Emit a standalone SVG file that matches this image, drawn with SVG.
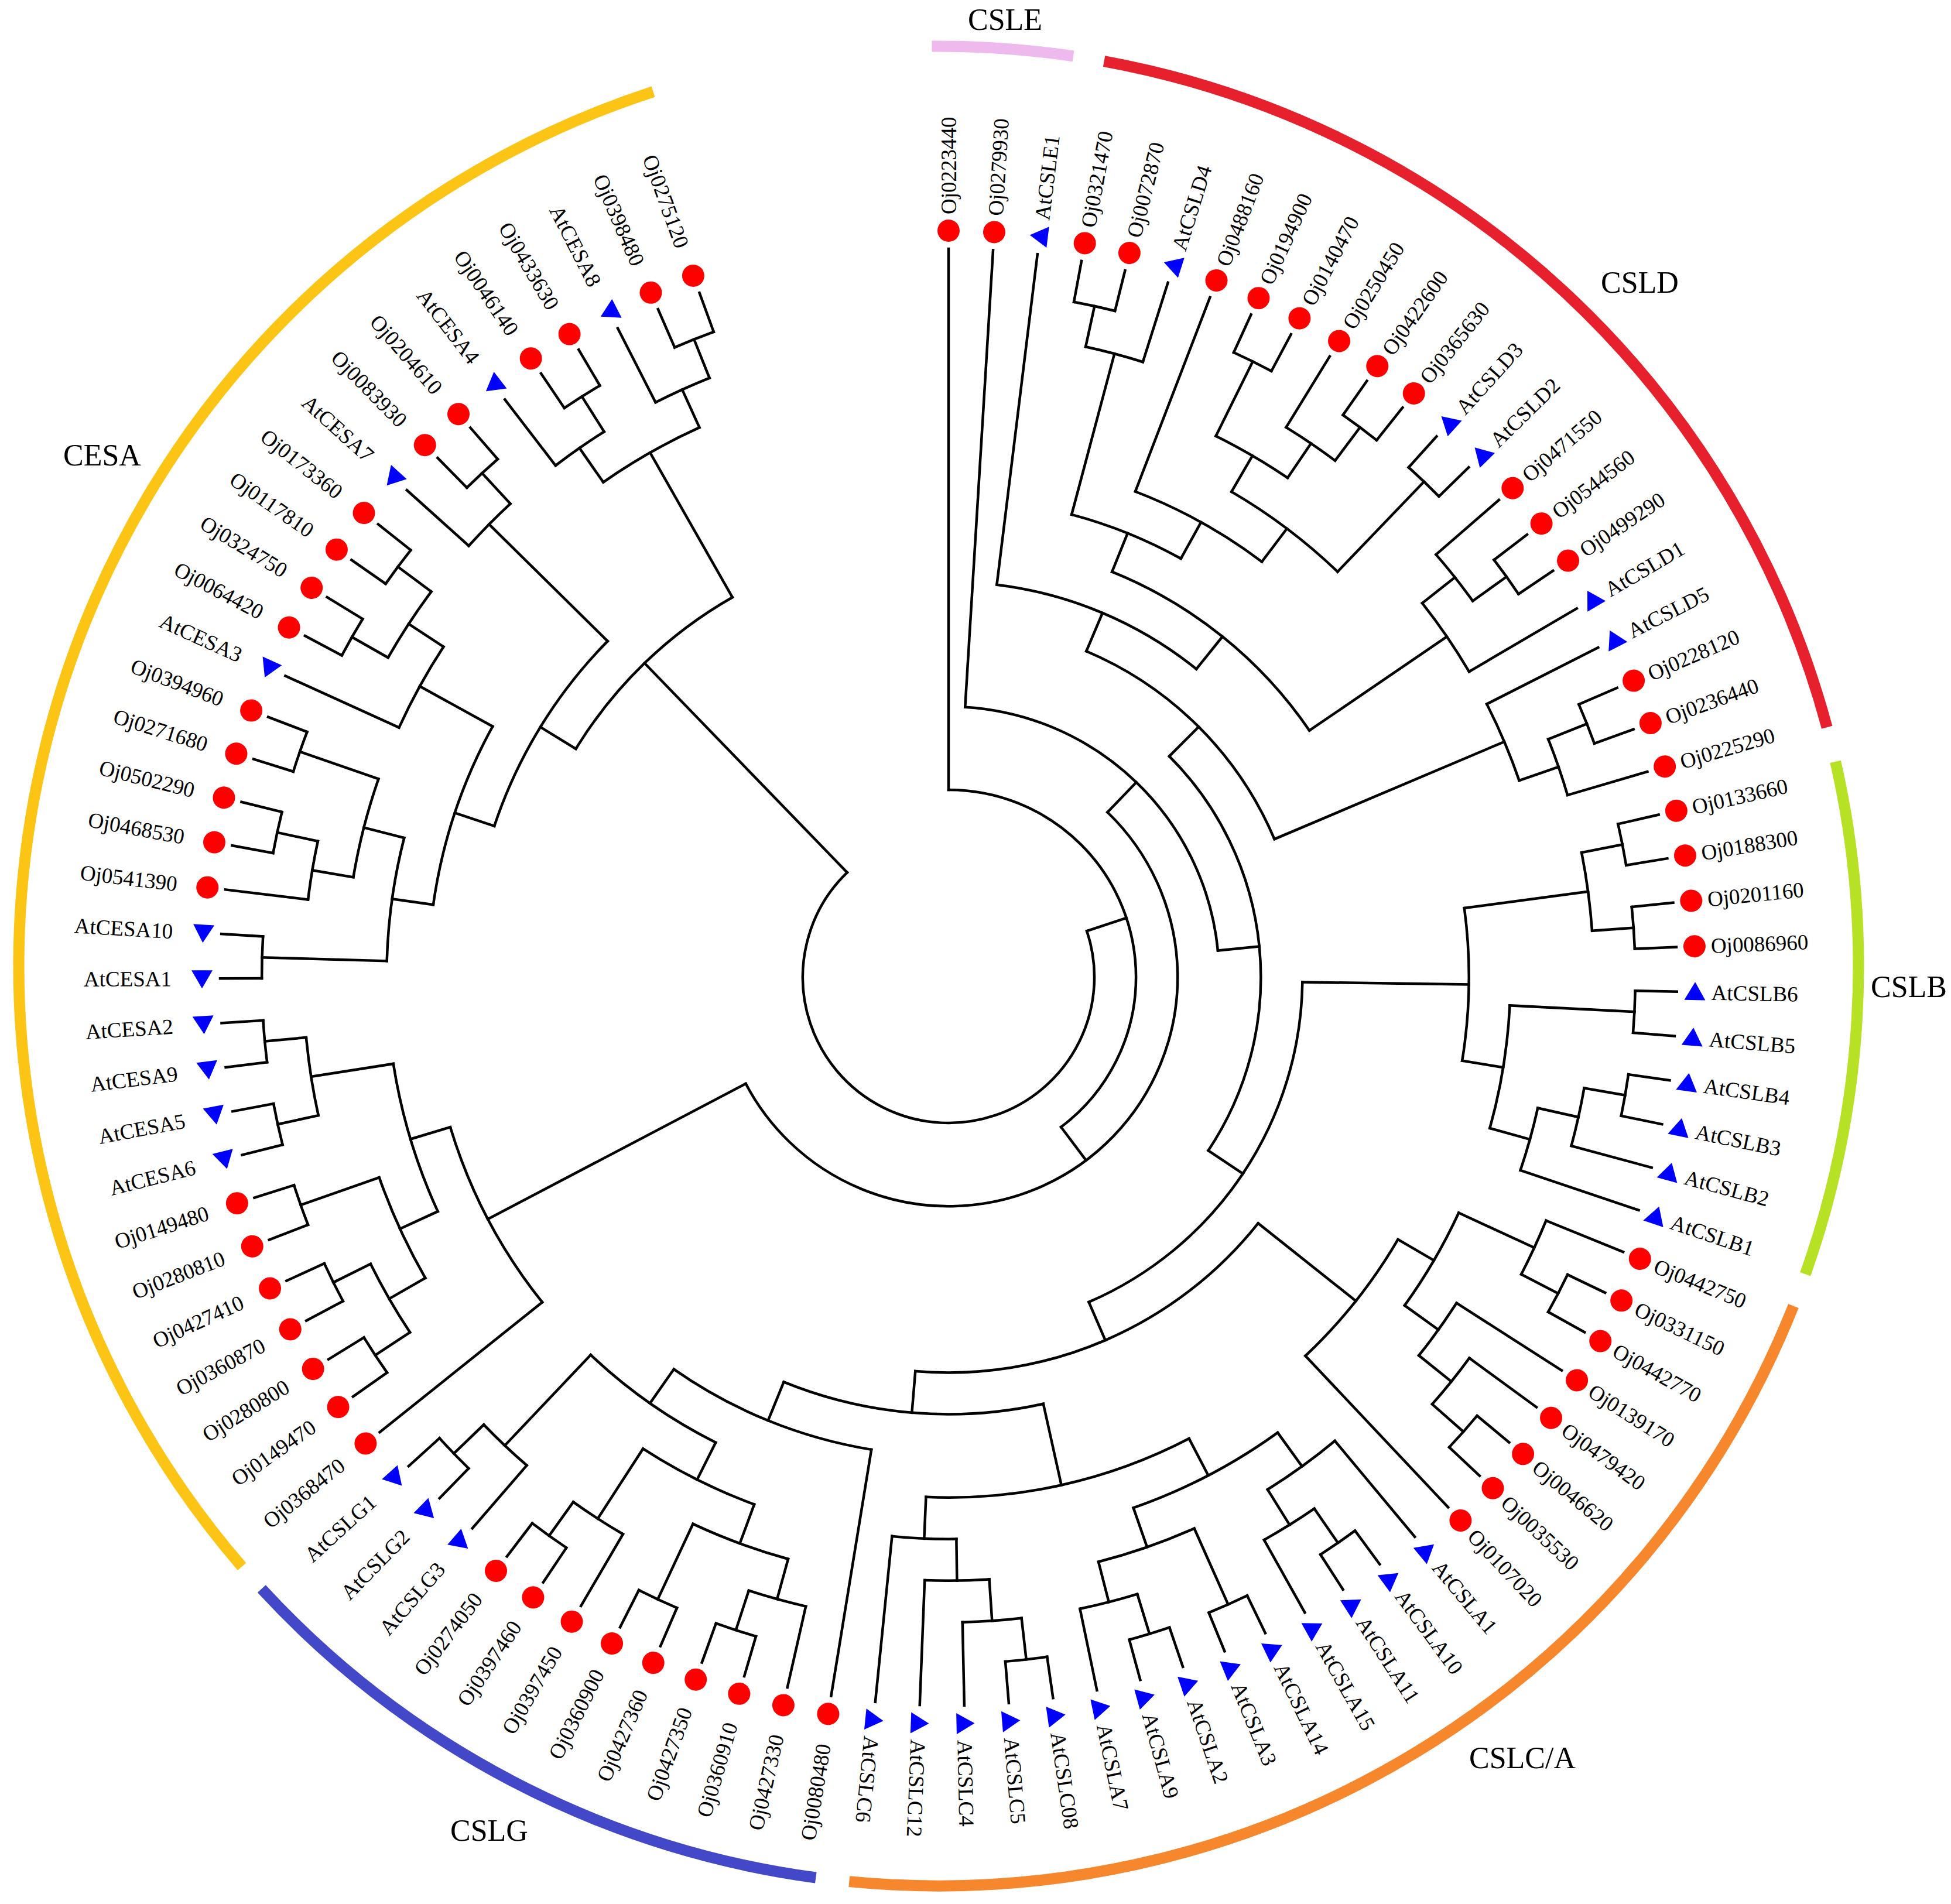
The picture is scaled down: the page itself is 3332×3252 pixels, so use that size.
<svg xmlns="http://www.w3.org/2000/svg" width="3332" height="3252" viewBox="0 0 3332 3252">
<style>
.r{transform:rotate(calc(var(--u) * 3.505155deg))}
#connectors line,#connectors circle{fill:none;stroke:#000;stroke-width:4.5;stroke-linecap:square}
.lb{font-family:'Liberation Serif','Times New Roman',serif;font-size:37px;fill:#000}
.f{text-anchor:end}
.gl{font-family:'Liberation Serif','Times New Roman',serif;font-size:52px;fill:#000}
#bands path{fill:none;stroke-width:19}
</style>
<defs>
<circle id="dot" cx="1275" cy="0" r="19" fill="#FF0000"/>
<polygon id="tri" points="1275,-17 1257,14 1293,14" fill="#0000FF"/>
</defs>
<rect width="3332" height="3252" fill="#FFFFFF"/>
<g transform="translate(1620,1669) rotate(-90)">
<g id="connectors">
<line class="r" style="--u:0" x1="320.1" x2="1244"/>
<line class="r" style="--u:1" x1="462.2" x2="1244"/>
<line class="r" style="--u:2" x1="675.4" x2="1244"/>
<line class="r" style="--u:3" x1="1172.9" x2="1244"/>
<line class="r" style="--u:4" x1="1172.9" x2="1244"/>
<line class="r" style="--u:5" x1="1101.9" x2="1244"/>
<line class="r" style="--u:6" x1="888.7" x2="1244"/>
<line class="r" style="--u:7" x1="1172.9" x2="1244"/>
<line class="r" style="--u:8" x1="1172.9" x2="1244"/>
<line class="r" style="--u:9" x1="1101.9" x2="1244"/>
<line class="r" style="--u:10" x1="1172.9" x2="1244"/>
<line class="r" style="--u:11" x1="1172.9" x2="1244"/>
<line class="r" style="--u:12" x1="1172.9" x2="1244"/>
<line class="r" style="--u:13" x1="1172.9" x2="1244"/>
<line class="r" style="--u:14" x1="1101.9" x2="1244"/>
<line class="r" style="--u:15" x1="1172.9" x2="1244"/>
<line class="r" style="--u:16" x1="1172.9" x2="1244"/>
<line class="r" style="--u:17" x1="1030.8" x2="1244"/>
<line class="r" style="--u:18" x1="1030.8" x2="1244"/>
<line class="r" style="--u:19" x1="1172.9" x2="1244"/>
<line class="r" style="--u:20" x1="1172.9" x2="1244"/>
<line class="r" style="--u:21" x1="1101.9" x2="1244"/>
<line class="r" style="--u:22" x1="1172.9" x2="1244"/>
<line class="r" style="--u:23" x1="1172.9" x2="1244"/>
<line class="r" style="--u:24" x1="1172.9" x2="1244"/>
<line class="r" style="--u:25" x1="1172.9" x2="1244"/>
<line class="r" style="--u:26" x1="1172.9" x2="1244"/>
<line class="r" style="--u:27" x1="1172.9" x2="1244"/>
<line class="r" style="--u:28" x1="1172.9" x2="1244"/>
<line class="r" style="--u:29" x1="1172.9" x2="1244"/>
<line class="r" style="--u:30" x1="1101.9" x2="1244"/>
<line class="r" style="--u:31" x1="1030.8" x2="1244"/>
<line class="r" style="--u:32" x1="1101.9" x2="1244"/>
<line class="r" style="--u:33" x1="1172.9" x2="1244"/>
<line class="r" style="--u:34" x1="1172.9" x2="1244"/>
<line class="r" style="--u:35" x1="1030.8" x2="1244"/>
<line class="r" style="--u:36" x1="1101.9" x2="1244"/>
<line class="r" style="--u:37" x1="1172.9" x2="1244"/>
<line class="r" style="--u:38" x1="1172.9" x2="1244"/>
<line class="r" style="--u:39" x1="888.7" x2="1244"/>
<line class="r" style="--u:40" x1="1030.8" x2="1244"/>
<line class="r" style="--u:41" x1="1172.9" x2="1244"/>
<line class="r" style="--u:42" x1="1172.9" x2="1244"/>
<line class="r" style="--u:43" x1="1101.9" x2="1244"/>
<line class="r" style="--u:44" x1="1172.9" x2="1244"/>
<line class="r" style="--u:45" x1="1172.9" x2="1244"/>
<line class="r" style="--u:46" x1="1172.9" x2="1244"/>
<line class="r" style="--u:47" x1="1172.9" x2="1244"/>
<line class="r" style="--u:48" x1="1101.9" x2="1244"/>
<line class="r" style="--u:49" x1="1172.9" x2="1244"/>
<line class="r" style="--u:50" x1="1172.9" x2="1244"/>
<line class="r" style="--u:51" x1="1101.9" x2="1244"/>
<line class="r" style="--u:52" x1="1030.8" x2="1244"/>
<line class="r" style="--u:53" x1="959.7" x2="1244"/>
<line class="r" style="--u:54" x1="817.6" x2="1244"/>
<line class="r" style="--u:55" x1="1101.9" x2="1244"/>
<line class="r" style="--u:56" x1="1172.9" x2="1244"/>
<line class="r" style="--u:57" x1="1172.9" x2="1244"/>
<line class="r" style="--u:58" x1="1172.9" x2="1244"/>
<line class="r" style="--u:59" x1="1172.9" x2="1244"/>
<line class="r" style="--u:60" x1="1101.9" x2="1244"/>
<line class="r" style="--u:61" x1="1172.9" x2="1244"/>
<line class="r" style="--u:62" x1="1172.9" x2="1244"/>
<line class="r" style="--u:63" x1="1101.9" x2="1244"/>
<line class="r" style="--u:64" x1="1172.9" x2="1244"/>
<line class="r" style="--u:65" x1="1172.9" x2="1244"/>
<line class="r" style="--u:66" x1="888.7" x2="1244"/>
<line class="r" style="--u:67" x1="1172.9" x2="1244"/>
<line class="r" style="--u:68" x1="1172.9" x2="1244"/>
<line class="r" style="--u:69" x1="1172.9" x2="1244"/>
<line class="r" style="--u:70" x1="1172.9" x2="1244"/>
<line class="r" style="--u:71" x1="1172.9" x2="1244"/>
<line class="r" style="--u:72" x1="1172.9" x2="1244"/>
<line class="r" style="--u:73" x1="1172.9" x2="1244"/>
<line class="r" style="--u:74" x1="1172.9" x2="1244"/>
<line class="r" style="--u:75" x1="1172.9" x2="1244"/>
<line class="r" style="--u:76" x1="1172.9" x2="1244"/>
<line class="r" style="--u:77" x1="1172.9" x2="1244"/>
<line class="r" style="--u:78" x1="1172.9" x2="1244"/>
<line class="r" style="--u:79" x1="1101.9" x2="1244"/>
<line class="r" style="--u:80" x1="1172.9" x2="1244"/>
<line class="r" style="--u:81" x1="1172.9" x2="1244"/>
<line class="r" style="--u:82" x1="1172.9" x2="1244"/>
<line class="r" style="--u:83" x1="1172.9" x2="1244"/>
<line class="r" style="--u:84" x1="1030.8" x2="1244"/>
<line class="r" style="--u:85" x1="1172.9" x2="1244"/>
<line class="r" style="--u:86" x1="1172.9" x2="1244"/>
<line class="r" style="--u:87" x1="1172.9" x2="1244"/>
<line class="r" style="--u:88" x1="1172.9" x2="1244"/>
<line class="r" style="--u:89" x1="1101.9" x2="1244"/>
<line class="r" style="--u:90" x1="1172.9" x2="1244"/>
<line class="r" style="--u:91" x1="1172.9" x2="1244"/>
<line class="r" style="--u:92" x1="1101.9" x2="1244"/>
<line class="r" style="--u:93" x1="1172.9" x2="1244"/>
<line class="r" style="--u:94" x1="1172.9" x2="1244"/>
<line class="r" style="--u:95" x1="1101.9" x2="1244"/>
<line class="r" style="--u:96" x1="1172.9" x2="1244"/>
<line class="r" style="--u:97" x1="1172.9" x2="1244"/>
<line class="r" style="--u:3.5" x1="1101.9" x2="1172.9"/>
<line class="r" style="--u:4.25" x1="817.6" x2="1101.9"/>
<line class="r" style="--u:7.5" x1="1030.8" x2="1172.9"/>
<line class="r" style="--u:10.5" x1="1101.9" x2="1172.9"/>
<line class="r" style="--u:9.75" x1="1030.8" x2="1101.9"/>
<line class="r" style="--u:8.625" x1="959.7" x2="1030.8"/>
<line class="r" style="--u:12.5" x1="959.7" x2="1172.9"/>
<line class="r" style="--u:10.5625" x1="888.7" x2="959.7"/>
<line class="r" style="--u:8.28125" x1="817.6" x2="888.7"/>
<line class="r" style="--u:6.265625" x1="746.5" x2="817.6"/>
<line class="r" style="--u:15.5" x1="1101.9" x2="1172.9"/>
<line class="r" style="--u:14.75" x1="1030.8" x2="1101.9"/>
<line class="r" style="--u:15.875" x1="746.5" x2="1030.8"/>
<line class="r" style="--u:11.0703125" x1="675.4" x2="746.5"/>
<line class="r" style="--u:6.53515625" x1="604.4" x2="675.4"/>
<line class="r" style="--u:19.5" x1="1101.9" x2="1172.9"/>
<line class="r" style="--u:20.25" x1="1030.8" x2="1101.9"/>
<line class="r" style="--u:19.125" x1="604.4" x2="1030.8"/>
<line class="r" style="--u:12.830078" x1="533.3" x2="604.4"/>
<line class="r" style="--u:22.5" x1="1101.9" x2="1172.9"/>
<line class="r" style="--u:24.5" x1="1101.9" x2="1172.9"/>
<line class="r" style="--u:23.5" x1="888.7" x2="1101.9"/>
<line class="r" style="--u:26.5" x1="959.7" x2="1172.9"/>
<line class="r" style="--u:28.5" x1="1101.9" x2="1172.9"/>
<line class="r" style="--u:29.25" x1="1030.8" x2="1101.9"/>
<line class="r" style="--u:30.125" x1="959.7" x2="1030.8"/>
<line class="r" style="--u:28.3125" x1="888.7" x2="959.7"/>
<line class="r" style="--u:25.90625" x1="604.4" x2="888.7"/>
<line class="r" style="--u:33.5" x1="1101.9" x2="1172.9"/>
<line class="r" style="--u:32.75" x1="959.7" x2="1101.9"/>
<line class="r" style="--u:37.5" x1="1101.9" x2="1172.9"/>
<line class="r" style="--u:36.75" x1="1030.8" x2="1101.9"/>
<line class="r" style="--u:35.875" x1="959.7" x2="1030.8"/>
<line class="r" style="--u:34.3125" x1="888.7" x2="959.7"/>
<line class="r" style="--u:36.65625" x1="675.4" x2="888.7"/>
<line class="r" style="--u:41.5" x1="1101.9" x2="1172.9"/>
<line class="r" style="--u:42.25" x1="1030.8" x2="1101.9"/>
<line class="r" style="--u:41.125" x1="959.7" x2="1030.8"/>
<line class="r" style="--u:44.5" x1="1030.8" x2="1172.9"/>
<line class="r" style="--u:46.5" x1="1101.9" x2="1172.9"/>
<line class="r" style="--u:47.25" x1="1030.8" x2="1101.9"/>
<line class="r" style="--u:45.875" x1="959.7" x2="1030.8"/>
<line class="r" style="--u:43.5" x1="888.7" x2="959.7"/>
<line class="r" style="--u:49.5" x1="1101.9" x2="1172.9"/>
<line class="r" style="--u:50.25" x1="1030.8" x2="1101.9"/>
<line class="r" style="--u:51.125" x1="959.7" x2="1030.8"/>
<line class="r" style="--u:52.0625" x1="888.7" x2="959.7"/>
<line class="r" style="--u:47.78125" x1="746.5" x2="888.7"/>
<line class="r" style="--u:56.5" x1="1101.9" x2="1172.9"/>
<line class="r" style="--u:55.75" x1="1030.8" x2="1101.9"/>
<line class="r" style="--u:58.5" x1="1030.8" x2="1172.9"/>
<line class="r" style="--u:57.125" x1="959.7" x2="1030.8"/>
<line class="r" style="--u:61.5" x1="1101.9" x2="1172.9"/>
<line class="r" style="--u:60.75" x1="959.7" x2="1101.9"/>
<line class="r" style="--u:58.9375" x1="888.7" x2="959.7"/>
<line class="r" style="--u:64.5" x1="1101.9" x2="1172.9"/>
<line class="r" style="--u:63.75" x1="888.7" x2="1101.9"/>
<line class="r" style="--u:61.34375" x1="817.6" x2="888.7"/>
<line class="r" style="--u:57.671875" x1="746.5" x2="817.6"/>
<line class="r" style="--u:52.7265625" x1="675.4" x2="746.5"/>
<line class="r" style="--u:44.69140625" x1="604.4" x2="675.4"/>
<line class="r" style="--u:35.298828" x1="533.3" x2="604.4"/>
<line class="r" style="--u:24.064453" x1="462.2" x2="533.3"/>
<line class="r" style="--u:12.532227" x1="391.2" x2="462.2"/>
<line class="r" style="--u:67.5" x1="1101.9" x2="1172.9"/>
<line class="r" style="--u:69.5" x1="1101.9" x2="1172.9"/>
<line class="r" style="--u:68.5" x1="1030.8" x2="1101.9"/>
<line class="r" style="--u:71.5" x1="1030.8" x2="1172.9"/>
<line class="r" style="--u:70" x1="959.7" x2="1030.8"/>
<line class="r" style="--u:73.5" x1="1101.9" x2="1172.9"/>
<line class="r" style="--u:75.5" x1="1101.9" x2="1172.9"/>
<line class="r" style="--u:74.5" x1="959.7" x2="1101.9"/>
<line class="r" style="--u:72.25" x1="888.7" x2="959.7"/>
<line class="r" style="--u:69.125" x1="391.2" x2="888.7"/>
<line class="r" style="--u:40.828613" x1="320.1" x2="391.2"/>
<line class="r" style="--u:20.414307" x1="249" x2="320.1"/>
<line class="r" style="--u:77.5" x1="959.7" x2="1172.9"/>
<line class="r" style="--u:80.5" x1="1101.9" x2="1172.9"/>
<line class="r" style="--u:79.75" x1="1030.8" x2="1101.9"/>
<line class="r" style="--u:82.5" x1="1030.8" x2="1172.9"/>
<line class="r" style="--u:81.125" x1="959.7" x2="1030.8"/>
<line class="r" style="--u:79.3125" x1="888.7" x2="959.7"/>
<line class="r" style="--u:85.5" x1="1101.9" x2="1172.9"/>
<line class="r" style="--u:87.5" x1="1101.9" x2="1172.9"/>
<line class="r" style="--u:86.5" x1="1030.8" x2="1101.9"/>
<line class="r" style="--u:85.25" x1="888.7" x2="1030.8"/>
<line class="r" style="--u:82.28125" x1="817.6" x2="888.7"/>
<line class="r" style="--u:90.5" x1="1101.9" x2="1172.9"/>
<line class="r" style="--u:89.75" x1="817.6" x2="1101.9"/>
<line class="r" style="--u:86.015625" x1="746.5" x2="817.6"/>
<line class="r" style="--u:93.5" x1="1101.9" x2="1172.9"/>
<line class="r" style="--u:92.75" x1="1030.8" x2="1101.9"/>
<line class="r" style="--u:96.5" x1="1101.9" x2="1172.9"/>
<line class="r" style="--u:95.75" x1="1030.8" x2="1101.9"/>
<line class="r" style="--u:94.25" x1="746.5" x2="1030.8"/>
<line class="r" style="--u:90.1328125" x1="249" x2="746.5"/>
<circle class="r" style="--u:3" r="1172.9" pathLength="102.7059" stroke-dasharray="1 300"/>
<circle class="r" style="--u:3.5" r="1101.9" pathLength="102.7059" stroke-dasharray="1.5 300"/>
<circle class="r" style="--u:7" r="1172.9" pathLength="102.7059" stroke-dasharray="1 300"/>
<circle class="r" style="--u:10" r="1172.9" pathLength="102.7059" stroke-dasharray="1 300"/>
<circle class="r" style="--u:9" r="1101.9" pathLength="102.7059" stroke-dasharray="1.5 300"/>
<circle class="r" style="--u:7.5" r="1030.8" pathLength="102.7059" stroke-dasharray="2.25 300"/>
<circle class="r" style="--u:12" r="1172.9" pathLength="102.7059" stroke-dasharray="1 300"/>
<circle class="r" style="--u:8.625" r="959.7" pathLength="102.7059" stroke-dasharray="3.875 300"/>
<circle class="r" style="--u:6" r="888.7" pathLength="102.7059" stroke-dasharray="4.5625 300"/>
<circle class="r" style="--u:4.25" r="817.6" pathLength="102.7059" stroke-dasharray="4.03125 300"/>
<circle class="r" style="--u:15" r="1172.9" pathLength="102.7059" stroke-dasharray="1 300"/>
<circle class="r" style="--u:14" r="1101.9" pathLength="102.7059" stroke-dasharray="1.5 300"/>
<circle class="r" style="--u:14.75" r="1030.8" pathLength="102.7059" stroke-dasharray="2.25 300"/>
<circle class="r" style="--u:6.265625" r="746.5" pathLength="102.7059" stroke-dasharray="9.609375 300"/>
<circle class="r" style="--u:2" r="675.4" pathLength="102.7059" stroke-dasharray="9.0703125 300"/>
<circle class="r" style="--u:19" r="1172.9" pathLength="102.7059" stroke-dasharray="1 300"/>
<circle class="r" style="--u:19.5" r="1101.9" pathLength="102.7059" stroke-dasharray="1.5 300"/>
<circle class="r" style="--u:18" r="1030.8" pathLength="102.7059" stroke-dasharray="2.25 300"/>
<circle class="r" style="--u:6.53515625" r="604.4" pathLength="102.7059" stroke-dasharray="12.58984375 300"/>
<circle class="r" style="--u:22" r="1172.9" pathLength="102.7059" stroke-dasharray="1 300"/>
<circle class="r" style="--u:24" r="1172.9" pathLength="102.7059" stroke-dasharray="1 300"/>
<circle class="r" style="--u:22.5" r="1101.9" pathLength="102.7059" stroke-dasharray="2 300"/>
<circle class="r" style="--u:26" r="1172.9" pathLength="102.7059" stroke-dasharray="1 300"/>
<circle class="r" style="--u:28" r="1172.9" pathLength="102.7059" stroke-dasharray="1 300"/>
<circle class="r" style="--u:28.5" r="1101.9" pathLength="102.7059" stroke-dasharray="1.5 300"/>
<circle class="r" style="--u:29.25" r="1030.8" pathLength="102.7059" stroke-dasharray="1.75 300"/>
<circle class="r" style="--u:26.5" r="959.7" pathLength="102.7059" stroke-dasharray="3.625 300"/>
<circle class="r" style="--u:23.5" r="888.7" pathLength="102.7059" stroke-dasharray="4.8125 300"/>
<circle class="r" style="--u:33" r="1172.9" pathLength="102.7059" stroke-dasharray="1 300"/>
<circle class="r" style="--u:32" r="1101.9" pathLength="102.7059" stroke-dasharray="1.5 300"/>
<circle class="r" style="--u:37" r="1172.9" pathLength="102.7059" stroke-dasharray="1 300"/>
<circle class="r" style="--u:36" r="1101.9" pathLength="102.7059" stroke-dasharray="1.5 300"/>
<circle class="r" style="--u:35" r="1030.8" pathLength="102.7059" stroke-dasharray="1.75 300"/>
<circle class="r" style="--u:32.75" r="959.7" pathLength="102.7059" stroke-dasharray="3.125 300"/>
<circle class="r" style="--u:34.3125" r="888.7" pathLength="102.7059" stroke-dasharray="4.6875 300"/>
<circle class="r" style="--u:41" r="1172.9" pathLength="102.7059" stroke-dasharray="1 300"/>
<circle class="r" style="--u:41.5" r="1101.9" pathLength="102.7059" stroke-dasharray="1.5 300"/>
<circle class="r" style="--u:40" r="1030.8" pathLength="102.7059" stroke-dasharray="2.25 300"/>
<circle class="r" style="--u:44" r="1172.9" pathLength="102.7059" stroke-dasharray="1 300"/>
<circle class="r" style="--u:46" r="1172.9" pathLength="102.7059" stroke-dasharray="1 300"/>
<circle class="r" style="--u:46.5" r="1101.9" pathLength="102.7059" stroke-dasharray="1.5 300"/>
<circle class="r" style="--u:44.5" r="1030.8" pathLength="102.7059" stroke-dasharray="2.75 300"/>
<circle class="r" style="--u:41.125" r="959.7" pathLength="102.7059" stroke-dasharray="4.75 300"/>
<circle class="r" style="--u:49" r="1172.9" pathLength="102.7059" stroke-dasharray="1 300"/>
<circle class="r" style="--u:49.5" r="1101.9" pathLength="102.7059" stroke-dasharray="1.5 300"/>
<circle class="r" style="--u:50.25" r="1030.8" pathLength="102.7059" stroke-dasharray="1.75 300"/>
<circle class="r" style="--u:51.125" r="959.7" pathLength="102.7059" stroke-dasharray="1.875 300"/>
<circle class="r" style="--u:43.5" r="888.7" pathLength="102.7059" stroke-dasharray="8.5625 300"/>
<circle class="r" style="--u:56" r="1172.9" pathLength="102.7059" stroke-dasharray="1 300"/>
<circle class="r" style="--u:55" r="1101.9" pathLength="102.7059" stroke-dasharray="1.5 300"/>
<circle class="r" style="--u:58" r="1172.9" pathLength="102.7059" stroke-dasharray="1 300"/>
<circle class="r" style="--u:55.75" r="1030.8" pathLength="102.7059" stroke-dasharray="2.75 300"/>
<circle class="r" style="--u:61" r="1172.9" pathLength="102.7059" stroke-dasharray="1 300"/>
<circle class="r" style="--u:60" r="1101.9" pathLength="102.7059" stroke-dasharray="1.5 300"/>
<circle class="r" style="--u:57.125" r="959.7" pathLength="102.7059" stroke-dasharray="3.625 300"/>
<circle class="r" style="--u:64" r="1172.9" pathLength="102.7059" stroke-dasharray="1 300"/>
<circle class="r" style="--u:63" r="1101.9" pathLength="102.7059" stroke-dasharray="1.5 300"/>
<circle class="r" style="--u:58.9375" r="888.7" pathLength="102.7059" stroke-dasharray="4.8125 300"/>
<circle class="r" style="--u:54" r="817.6" pathLength="102.7059" stroke-dasharray="7.34375 300"/>
<circle class="r" style="--u:47.78125" r="746.5" pathLength="102.7059" stroke-dasharray="9.890625 300"/>
<circle class="r" style="--u:36.65625" r="675.4" pathLength="102.7059" stroke-dasharray="16.0703125 300"/>
<circle class="r" style="--u:25.90625" r="604.4" pathLength="102.7059" stroke-dasharray="18.78515625 300"/>
<circle class="r" style="--u:12.830078" r="533.3" pathLength="102.7059" stroke-dasharray="22.46875 300"/>
<circle class="r" style="--u:1" r="462.2" pathLength="102.7059" stroke-dasharray="23.064453 300"/>
<circle class="r" style="--u:67" r="1172.9" pathLength="102.7059" stroke-dasharray="1 300"/>
<circle class="r" style="--u:69" r="1172.9" pathLength="102.7059" stroke-dasharray="1 300"/>
<circle class="r" style="--u:67.5" r="1101.9" pathLength="102.7059" stroke-dasharray="2 300"/>
<circle class="r" style="--u:71" r="1172.9" pathLength="102.7059" stroke-dasharray="1 300"/>
<circle class="r" style="--u:68.5" r="1030.8" pathLength="102.7059" stroke-dasharray="3 300"/>
<circle class="r" style="--u:73" r="1172.9" pathLength="102.7059" stroke-dasharray="1 300"/>
<circle class="r" style="--u:75" r="1172.9" pathLength="102.7059" stroke-dasharray="1 300"/>
<circle class="r" style="--u:73.5" r="1101.9" pathLength="102.7059" stroke-dasharray="2 300"/>
<circle class="r" style="--u:70" r="959.7" pathLength="102.7059" stroke-dasharray="4.5 300"/>
<circle class="r" style="--u:66" r="888.7" pathLength="102.7059" stroke-dasharray="6.25 300"/>
<circle class="r" style="--u:12.532227" r="391.2" pathLength="102.7059" stroke-dasharray="56.592773 300"/>
<circle class="r" style="--u:0" r="320.1" pathLength="102.7059" stroke-dasharray="40.828613 300"/>
<circle class="r" style="--u:77" r="1172.9" pathLength="102.7059" stroke-dasharray="1 300"/>
<circle class="r" style="--u:80" r="1172.9" pathLength="102.7059" stroke-dasharray="1 300"/>
<circle class="r" style="--u:79" r="1101.9" pathLength="102.7059" stroke-dasharray="1.5 300"/>
<circle class="r" style="--u:82" r="1172.9" pathLength="102.7059" stroke-dasharray="1 300"/>
<circle class="r" style="--u:79.75" r="1030.8" pathLength="102.7059" stroke-dasharray="2.75 300"/>
<circle class="r" style="--u:77.5" r="959.7" pathLength="102.7059" stroke-dasharray="3.625 300"/>
<circle class="r" style="--u:85" r="1172.9" pathLength="102.7059" stroke-dasharray="1 300"/>
<circle class="r" style="--u:87" r="1172.9" pathLength="102.7059" stroke-dasharray="1 300"/>
<circle class="r" style="--u:85.5" r="1101.9" pathLength="102.7059" stroke-dasharray="2 300"/>
<circle class="r" style="--u:84" r="1030.8" pathLength="102.7059" stroke-dasharray="2.5 300"/>
<circle class="r" style="--u:79.3125" r="888.7" pathLength="102.7059" stroke-dasharray="5.9375 300"/>
<circle class="r" style="--u:90" r="1172.9" pathLength="102.7059" stroke-dasharray="1 300"/>
<circle class="r" style="--u:89" r="1101.9" pathLength="102.7059" stroke-dasharray="1.5 300"/>
<circle class="r" style="--u:82.28125" r="817.6" pathLength="102.7059" stroke-dasharray="7.46875 300"/>
<circle class="r" style="--u:93" r="1172.9" pathLength="102.7059" stroke-dasharray="1 300"/>
<circle class="r" style="--u:92" r="1101.9" pathLength="102.7059" stroke-dasharray="1.5 300"/>
<circle class="r" style="--u:96" r="1172.9" pathLength="102.7059" stroke-dasharray="1 300"/>
<circle class="r" style="--u:95" r="1101.9" pathLength="102.7059" stroke-dasharray="1.5 300"/>
<circle class="r" style="--u:92.75" r="1030.8" pathLength="102.7059" stroke-dasharray="3 300"/>
<circle class="r" style="--u:86.015625" r="746.5" pathLength="102.7059" stroke-dasharray="8.234375 300"/>
<circle class="r" style="--u:20.414307" r="249" pathLength="102.7059" stroke-dasharray="69.718506 300"/>
</g>
<g id="leaves" class="lb">
<g id="leaf-Oj0223440" class="r" style="--u:0"><use href="#dot"/><text x="1303" y="13">Oj0223440</text></g>
<g id="leaf-Oj0279930" class="r" style="--u:1"><use href="#dot"/><text x="1303" y="13">Oj0279930</text></g>
<g id="leaf-AtCSLE1" class="r" style="--u:2"><use href="#tri"/><text x="1303" y="13">AtCSLE1</text></g>
<g id="leaf-Oj0321470" class="r" style="--u:3"><use href="#dot"/><text x="1303" y="13">Oj0321470</text></g>
<g id="leaf-Oj0072870" class="r" style="--u:4"><use href="#dot"/><text x="1303" y="13">Oj0072870</text></g>
<g id="leaf-AtCSLD4" class="r" style="--u:5"><use href="#tri"/><text x="1303" y="13">AtCSLD4</text></g>
<g id="leaf-Oj0488160" class="r" style="--u:6"><use href="#dot"/><text x="1303" y="13">Oj0488160</text></g>
<g id="leaf-Oj0194900" class="r" style="--u:7"><use href="#dot"/><text x="1303" y="13">Oj0194900</text></g>
<g id="leaf-Oj0140470" class="r" style="--u:8"><use href="#dot"/><text x="1303" y="13">Oj0140470</text></g>
<g id="leaf-Oj0250450" class="r" style="--u:9"><use href="#dot"/><text x="1303" y="13">Oj0250450</text></g>
<g id="leaf-Oj0422600" class="r" style="--u:10"><use href="#dot"/><text x="1303" y="13">Oj0422600</text></g>
<g id="leaf-Oj0365630" class="r" style="--u:11"><use href="#dot"/><text x="1303" y="13">Oj0365630</text></g>
<g id="leaf-AtCSLD3" class="r" style="--u:12"><use href="#tri"/><text x="1303" y="13">AtCSLD3</text></g>
<g id="leaf-AtCSLD2" class="r" style="--u:13"><use href="#tri"/><text x="1303" y="13">AtCSLD2</text></g>
<g id="leaf-Oj0471550" class="r" style="--u:14"><use href="#dot"/><text x="1303" y="13">Oj0471550</text></g>
<g id="leaf-Oj0544560" class="r" style="--u:15"><use href="#dot"/><text x="1303" y="13">Oj0544560</text></g>
<g id="leaf-Oj0499290" class="r" style="--u:16"><use href="#dot"/><text x="1303" y="13">Oj0499290</text></g>
<g id="leaf-AtCSLD1" class="r" style="--u:17"><use href="#tri"/><text x="1303" y="13">AtCSLD1</text></g>
<g id="leaf-AtCSLD5" class="r" style="--u:18"><use href="#tri"/><text x="1303" y="13">AtCSLD5</text></g>
<g id="leaf-Oj0228120" class="r" style="--u:19"><use href="#dot"/><text x="1303" y="13">Oj0228120</text></g>
<g id="leaf-Oj0236440" class="r" style="--u:20"><use href="#dot"/><text x="1303" y="13">Oj0236440</text></g>
<g id="leaf-Oj0225290" class="r" style="--u:21"><use href="#dot"/><text x="1303" y="13">Oj0225290</text></g>
<g id="leaf-Oj0133660" class="r" style="--u:22"><use href="#dot"/><text x="1303" y="13">Oj0133660</text></g>
<g id="leaf-Oj0188300" class="r" style="--u:23"><use href="#dot"/><text x="1303" y="13">Oj0188300</text></g>
<g id="leaf-Oj0201160" class="r" style="--u:24"><use href="#dot"/><text x="1303" y="13">Oj0201160</text></g>
<g id="leaf-Oj0086960" class="r" style="--u:25"><use href="#dot"/><text x="1303" y="13">Oj0086960</text></g>
<g id="leaf-AtCSLB6" class="r" style="--u:26"><use href="#tri"/><text x="1303" y="13">AtCSLB6</text></g>
<g id="leaf-AtCSLB5" class="r" style="--u:27"><use href="#tri"/><text x="1303" y="13">AtCSLB5</text></g>
<g id="leaf-AtCSLB4" class="r" style="--u:28"><use href="#tri"/><text x="1303" y="13">AtCSLB4</text></g>
<g id="leaf-AtCSLB3" class="r" style="--u:29"><use href="#tri"/><text x="1303" y="13">AtCSLB3</text></g>
<g id="leaf-AtCSLB2" class="r" style="--u:30"><use href="#tri"/><text x="1303" y="13">AtCSLB2</text></g>
<g id="leaf-AtCSLB1" class="r" style="--u:31"><use href="#tri"/><text x="1303" y="13">AtCSLB1</text></g>
<g id="leaf-Oj0442750" class="r" style="--u:32"><use href="#dot"/><text x="1303" y="13">Oj0442750</text></g>
<g id="leaf-Oj0331150" class="r" style="--u:33"><use href="#dot"/><text x="1303" y="13">Oj0331150</text></g>
<g id="leaf-Oj0442770" class="r" style="--u:34"><use href="#dot"/><text x="1303" y="13">Oj0442770</text></g>
<g id="leaf-Oj0139170" class="r" style="--u:35"><use href="#dot"/><text x="1303" y="13">Oj0139170</text></g>
<g id="leaf-Oj0479420" class="r" style="--u:36"><use href="#dot"/><text x="1303" y="13">Oj0479420</text></g>
<g id="leaf-Oj0046620" class="r" style="--u:37"><use href="#dot"/><text x="1303" y="13">Oj0046620</text></g>
<g id="leaf-Oj0035530" class="r" style="--u:38"><use href="#dot"/><text x="1303" y="13">Oj0035530</text></g>
<g id="leaf-Oj0107020" class="r" style="--u:39"><use href="#dot"/><text x="1303" y="13">Oj0107020</text></g>
<g id="leaf-AtCSLA1" class="r" style="--u:40"><use href="#tri"/><text x="1303" y="13">AtCSLA1</text></g>
<g id="leaf-AtCSLA10" class="r" style="--u:41"><use href="#tri"/><text x="1303" y="13">AtCSLA10</text></g>
<g id="leaf-AtCSLA11" class="r" style="--u:42"><use href="#tri"/><text x="1303" y="13">AtCSLA11</text></g>
<g id="leaf-AtCSLA15" class="r" style="--u:43"><use href="#tri"/><text x="1303" y="13">AtCSLA15</text></g>
<g id="leaf-AtCSLA14" class="r" style="--u:44"><use href="#tri"/><text x="1303" y="13">AtCSLA14</text></g>
<g id="leaf-AtCSLA3" class="r" style="--u:45"><use href="#tri"/><text x="1303" y="13">AtCSLA3</text></g>
<g id="leaf-AtCSLA2" class="r" style="--u:46"><use href="#tri"/><text x="1303" y="13">AtCSLA2</text></g>
<g id="leaf-AtCSLA9" class="r" style="--u:47"><use href="#tri"/><text x="1303" y="13">AtCSLA9</text></g>
<g id="leaf-AtCSLA7" class="r" style="--u:48"><use href="#tri"/><text x="1303" y="13">AtCSLA7</text></g>
<g id="leaf-AtCSLC08" class="r" style="--u:49"><use href="#tri"/><text x="1303" y="13">AtCSLC08</text></g>
<g id="leaf-AtCSLC5" class="r" style="--u:50"><use href="#tri"/><text x="1303" y="13">AtCSLC5</text></g>
<g id="leaf-AtCSLC4" class="r" style="--u:51"><use href="#tri"/><text x="1303" y="13">AtCSLC4</text></g>
<g id="leaf-AtCSLC12" class="r" style="--u:52"><use href="#tri"/><text x="1303" y="13">AtCSLC12</text></g>
<g id="leaf-AtCSLC6" class="r" style="--u:53"><use href="#tri"/><text x="1303" y="13">AtCSLC6</text></g>
<g id="leaf-Oj0080480" class="r" style="--u:54"><use href="#dot"/><text class="f" transform="rotate(180)" x="-1327" y="13">Oj0080480</text></g>
<g id="leaf-Oj0427330" class="r" style="--u:55"><use href="#dot"/><text class="f" transform="rotate(180)" x="-1327" y="13">Oj0427330</text></g>
<g id="leaf-Oj0360910" class="r" style="--u:56"><use href="#dot"/><text class="f" transform="rotate(180)" x="-1327" y="13">Oj0360910</text></g>
<g id="leaf-Oj0427350" class="r" style="--u:57"><use href="#dot"/><text class="f" transform="rotate(180)" x="-1327" y="13">Oj0427350</text></g>
<g id="leaf-Oj0427360" class="r" style="--u:58"><use href="#dot"/><text class="f" transform="rotate(180)" x="-1327" y="13">Oj0427360</text></g>
<g id="leaf-Oj0360900" class="r" style="--u:59"><use href="#dot"/><text class="f" transform="rotate(180)" x="-1327" y="13">Oj0360900</text></g>
<g id="leaf-Oj0397450" class="r" style="--u:60"><use href="#dot"/><text class="f" transform="rotate(180)" x="-1327" y="13">Oj0397450</text></g>
<g id="leaf-Oj0397460" class="r" style="--u:61"><use href="#dot"/><text class="f" transform="rotate(180)" x="-1327" y="13">Oj0397460</text></g>
<g id="leaf-Oj0274050" class="r" style="--u:62"><use href="#dot"/><text class="f" transform="rotate(180)" x="-1327" y="13">Oj0274050</text></g>
<g id="leaf-AtCSLG3" class="r" style="--u:63"><use href="#tri"/><text class="f" transform="rotate(180)" x="-1327" y="13">AtCSLG3</text></g>
<g id="leaf-AtCSLG2" class="r" style="--u:64"><use href="#tri"/><text class="f" transform="rotate(180)" x="-1327" y="13">AtCSLG2</text></g>
<g id="leaf-AtCSLG1" class="r" style="--u:65"><use href="#tri"/><text class="f" transform="rotate(180)" x="-1327" y="13">AtCSLG1</text></g>
<g id="leaf-Oj0368470" class="r" style="--u:66"><use href="#dot"/><text class="f" transform="rotate(180)" x="-1327" y="13">Oj0368470</text></g>
<g id="leaf-Oj0149470" class="r" style="--u:67"><use href="#dot"/><text class="f" transform="rotate(180)" x="-1327" y="13">Oj0149470</text></g>
<g id="leaf-Oj0280800" class="r" style="--u:68"><use href="#dot"/><text class="f" transform="rotate(180)" x="-1327" y="13">Oj0280800</text></g>
<g id="leaf-Oj0360870" class="r" style="--u:69"><use href="#dot"/><text class="f" transform="rotate(180)" x="-1327" y="13">Oj0360870</text></g>
<g id="leaf-Oj0427410" class="r" style="--u:70"><use href="#dot"/><text class="f" transform="rotate(180)" x="-1327" y="13">Oj0427410</text></g>
<g id="leaf-Oj0280810" class="r" style="--u:71"><use href="#dot"/><text class="f" transform="rotate(180)" x="-1327" y="13">Oj0280810</text></g>
<g id="leaf-Oj0149480" class="r" style="--u:72"><use href="#dot"/><text class="f" transform="rotate(180)" x="-1327" y="13">Oj0149480</text></g>
<g id="leaf-AtCESA6" class="r" style="--u:73"><use href="#tri"/><text class="f" transform="rotate(180)" x="-1327" y="13">AtCESA6</text></g>
<g id="leaf-AtCESA5" class="r" style="--u:74"><use href="#tri"/><text class="f" transform="rotate(180)" x="-1327" y="13">AtCESA5</text></g>
<g id="leaf-AtCESA9" class="r" style="--u:75"><use href="#tri"/><text class="f" transform="rotate(180)" x="-1327" y="13">AtCESA9</text></g>
<g id="leaf-AtCESA2" class="r" style="--u:76"><use href="#tri"/><text class="f" transform="rotate(180)" x="-1327" y="13">AtCESA2</text></g>
<g id="leaf-AtCESA1" class="r" style="--u:77"><use href="#tri"/><text class="f" transform="rotate(180)" x="-1327" y="13">AtCESA1</text></g>
<g id="leaf-AtCESA10" class="r" style="--u:78"><use href="#tri"/><text class="f" transform="rotate(180)" x="-1327" y="13">AtCESA10</text></g>
<g id="leaf-Oj0541390" class="r" style="--u:79"><use href="#dot"/><text class="f" transform="rotate(180)" x="-1327" y="13">Oj0541390</text></g>
<g id="leaf-Oj0468530" class="r" style="--u:80"><use href="#dot"/><text class="f" transform="rotate(180)" x="-1327" y="13">Oj0468530</text></g>
<g id="leaf-Oj0502290" class="r" style="--u:81"><use href="#dot"/><text class="f" transform="rotate(180)" x="-1327" y="13">Oj0502290</text></g>
<g id="leaf-Oj0271680" class="r" style="--u:82"><use href="#dot"/><text class="f" transform="rotate(180)" x="-1327" y="13">Oj0271680</text></g>
<g id="leaf-Oj0394960" class="r" style="--u:83"><use href="#dot"/><text class="f" transform="rotate(180)" x="-1327" y="13">Oj0394960</text></g>
<g id="leaf-AtCESA3" class="r" style="--u:84"><use href="#tri"/><text class="f" transform="rotate(180)" x="-1327" y="13">AtCESA3</text></g>
<g id="leaf-Oj0064420" class="r" style="--u:85"><use href="#dot"/><text class="f" transform="rotate(180)" x="-1327" y="13">Oj0064420</text></g>
<g id="leaf-Oj0324750" class="r" style="--u:86"><use href="#dot"/><text class="f" transform="rotate(180)" x="-1327" y="13">Oj0324750</text></g>
<g id="leaf-Oj0117810" class="r" style="--u:87"><use href="#dot"/><text class="f" transform="rotate(180)" x="-1327" y="13">Oj0117810</text></g>
<g id="leaf-Oj0173360" class="r" style="--u:88"><use href="#dot"/><text class="f" transform="rotate(180)" x="-1327" y="13">Oj0173360</text></g>
<g id="leaf-AtCESA7" class="r" style="--u:89"><use href="#tri"/><text class="f" transform="rotate(180)" x="-1327" y="13">AtCESA7</text></g>
<g id="leaf-Oj0083930" class="r" style="--u:90"><use href="#dot"/><text class="f" transform="rotate(180)" x="-1327" y="13">Oj0083930</text></g>
<g id="leaf-Oj0204610" class="r" style="--u:91"><use href="#dot"/><text class="f" transform="rotate(180)" x="-1327" y="13">Oj0204610</text></g>
<g id="leaf-AtCESA4" class="r" style="--u:92"><use href="#tri"/><text class="f" transform="rotate(180)" x="-1327" y="13">AtCESA4</text></g>
<g id="leaf-Oj0046140" class="r" style="--u:93"><use href="#dot"/><text class="f" transform="rotate(180)" x="-1327" y="13">Oj0046140</text></g>
<g id="leaf-Oj0433630" class="r" style="--u:94"><use href="#dot"/><text class="f" transform="rotate(180)" x="-1327" y="13">Oj0433630</text></g>
<g id="leaf-AtCESA8" class="r" style="--u:95"><use href="#tri"/><text class="f" transform="rotate(180)" x="-1327" y="13">AtCESA8</text></g>
<g id="leaf-Oj0398480" class="r" style="--u:96"><use href="#dot"/><text class="f" transform="rotate(180)" x="-1327" y="13">Oj0398480</text></g>
<g id="leaf-Oj0275120" class="r" style="--u:97"><use href="#dot"/><text class="f" transform="rotate(180)" x="-1327" y="13">Oj0275120</text></g>
</g>
</g>
<g id="bands">
<path id="band-CSLE" stroke="#EEBAEE" d="M1591.5,79 A1571,1571 0 0 1 1833,95.9"/>
<path id="band-CSLD" stroke="#E6202C" d="M1885.6,104.6 A1571,1571 0 0 1 3120.2,1242.3"/>
<path id="band-CSLB" stroke="#B7E125" d="M3134.7,1300.9 A1571,1571 0 0 1 3083.2,2176.2"/>
<path id="band-CSLCA" stroke="#F7872D" d="M3062.9,2230.4 A1571,1571 0 0 1 1450.3,3213.6"/>
<path id="band-CSLG" stroke="#4248C8" d="M1393.3,3207 A1571,1571 0 0 1 446.8,2713.6"/>
<path id="band-CESA" stroke="#FCC414" d="M413.1,2675.8 A1571,1571 0 0 1 1115.5,156.6"/>
</g>
<g id="group-labels" class="gl">
<text x="1653" y="51">CSLE</text>
<text x="2734" y="500">CSLD</text>
<text x="3195" y="1703">CSLB</text>
<text x="2509" y="3020">CSLC/A</text>
<text x="769" y="3144">CSLG</text>
<text x="108" y="795">CESA</text>
</g>
</svg>
